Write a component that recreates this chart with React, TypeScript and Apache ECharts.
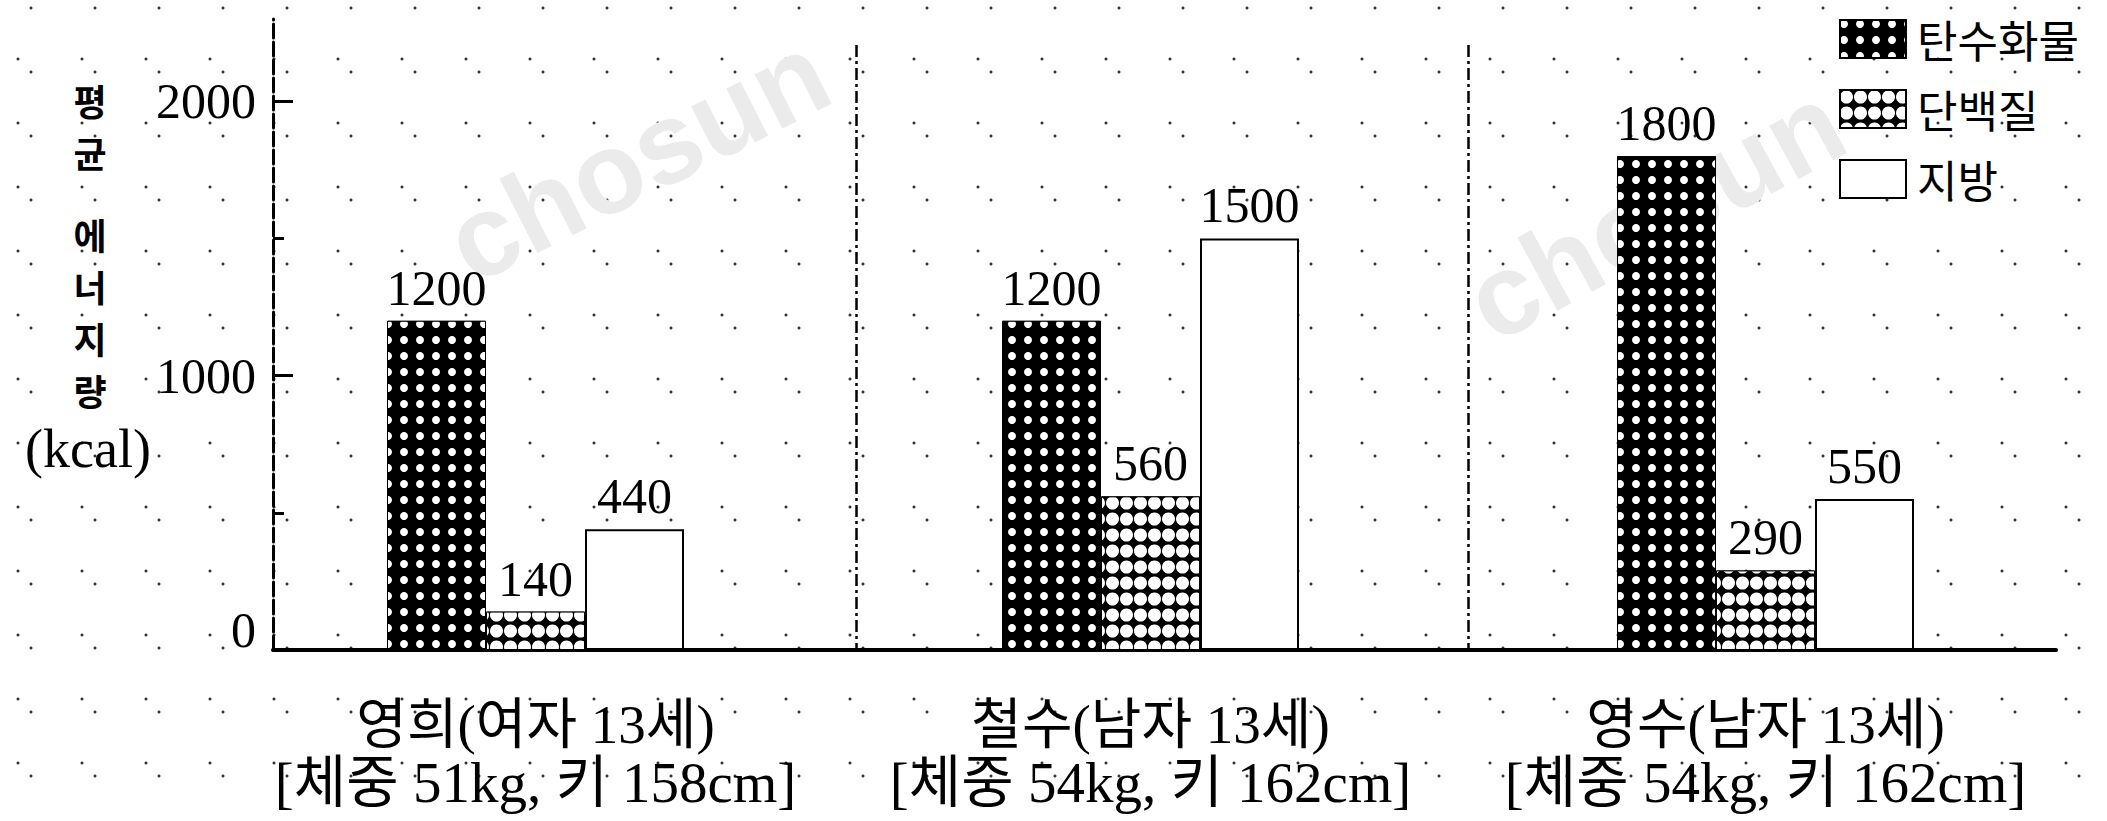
import React, { useEffect, useRef } from 'react';
import * as echarts from 'echarts';

// ---- data ----
const personNames = ['영희(여자 13세)', '철수(남자 13세)', '영수(남자 13세)'];
const personInfo = ['[체중 51kg, 키 158cm]', '[체중 54kg, 키 162cm]', '[체중 54kg, 키 162cm]'];
const seriesNames = ['탄수화물', '단백질', '지방'];
const carbs = [1200, 1200, 1800];
const protein = [140, 560, 290];
const fat = [440, 1500, 550];
const yLabelTicks = [0, 1000, 2000];
const yMajorTicks = [1000, 2000];
const yMinorTicks = [500, 1500];
const yMax = 2300;
const axisTitleChars = ['평', '균', '에', '너', '지', '량'];
const axisUnit = '(kcal)';
const watermarkText = 'chosun';

const SERIF = "'Liberation Serif', 'Noto Sans CJK KR', serif";
const KR = "'Noto Sans CJK KR', 'Liberation Serif', sans-serif";

export default function App() {
  const ref = useRef<HTMLDivElement>(null);

  useEffect(() => {
    if (!ref.current) return;
    const chart = echarts.init(ref.current, undefined, { renderer: 'svg' });
    const categories = personNames.map((n, i) => n + '\n' + personInfo[i]);

    const barLabel = {
      show: true,
      position: 'top',
      distance: 8,
      fontSize: 50,
      fontFamily: SERIF,
      color: '#000',
    };

    // vertical axis title: one character per line, a wider gap after the first word
    const titleY = [100, 152, 234, 286, 338, 390];
    const titleTexts = axisTitleChars.map((ch, i) => ({
      type: 'text',
      x: 90,
      y: titleY[i],
      style: {
        text: ch,
        fontSize: 36,
        fontWeight: 'bold',
        fontFamily: KR,
        fill: '#000',
        align: 'center',
        verticalAlign: 'middle',
      },
    }));

    const wm = (x: number, y: number, rot: number) => ({
      type: 'text',
      x,
      y,
      rotation: rot,
      z: -10,
      silent: true,
      style: {
        text: watermarkText,
        fontSize: 115,
        fontWeight: 'bold',
        fontFamily: "'Liberation Sans', Arial, sans-serif",
        fill: '#ebebeb',
        align: 'left',
        verticalAlign: 'middle',
      },
    });

    const option: any = {
      animation: false,
      backgroundColor: 'transparent',
      textStyle: { fontFamily: SERIF, color: '#000' },
      grid: [
        { left: 273, right: 51, top: 19, bottom: 171 },
        { left: 228, right: 34, top: 19, bottom: 171 },
        { left: 244, right: 27, top: 45, bottom: 171 },
      ],
      legend: {
        orient: 'vertical',
        left: 1834,
        top: 12,
        icon: 'rect',
        itemWidth: 66,
        itemHeight: 38,
        itemGap: 26,
        selectedMode: false,
        data: seriesNames,
        textStyle: { fontSize: 44, fontFamily: KR, color: '#000', padding: [0, 0, 0, 6] },
      },
      xAxis: [
        {
          gridIndex: 0,
          type: 'category',
          data: [''],
          axisLine: { show: true, lineStyle: { color: '#000', width: 4 } },
          axisTick: { show: false },
          axisLabel: { show: false },
          splitLine: { show: false },
        },
        {
          gridIndex: 1,
          type: 'category',
          data: categories,
          axisLine: { show: false },
          axisTick: { show: false },
          splitLine: { show: false },
          axisLabel: {
            interval: 0,
            margin: 45,
            formatter: (v: string) => {
              const parts = v.split('\n');
              return '{a|' + parts[0] + '}\n{b|' + parts[1] + '}';
            },
            rich: {
              a: { fontSize: 55, lineHeight: 58, fontFamily: SERIF, color: '#000' },
              b: { fontSize: 57, lineHeight: 58, fontFamily: SERIF, color: '#000' },
            },
          },
        },
        {
          gridIndex: 2,
          type: 'category',
          data: categories,
          axisLine: { show: false },
          axisTick: { show: false },
          axisLabel: { show: false },
          splitLine: {
            show: true,
            interval: 0,
            showMinLine: false,
            showMaxLine: false,
            lineStyle: { color: '#000', width: 2.5, type: [12, 4, 3, 4] },
          },
        },
      ],
      yAxis: [
        {
          gridIndex: 0,
          type: 'value',
          min: 0,
          max: yMax,
          position: 'left',
          axisLine: { show: true, lineStyle: { color: '#000', width: 3, type: [14, 4] } },
          axisTick: {
            show: true,
            inside: true,
            length: 20,
            customValues: yMajorTicks,
            lineStyle: { color: '#000', width: 3 },
          },
          axisLabel: {
            customValues: yLabelTicks,
            margin: 17,
            fontSize: 50,
            fontFamily: SERIF,
            color: '#000',
            formatter: (v: number) => (v === 0 ? '{z|0}' : String(v)),
            rich: {
              z: { fontSize: 50, fontFamily: SERIF, color: '#000', padding: [0, 0, 40, 0] },
            },
          },
          splitLine: { show: false },
        },
        {
          gridIndex: 0,
          type: 'value',
          min: 0,
          max: yMax,
          position: 'left',
          axisLine: { show: false },
          axisTick: {
            show: true,
            inside: true,
            length: 11,
            customValues: yMinorTicks,
            lineStyle: { color: '#000', width: 3 },
          },
          axisLabel: { show: false },
          splitLine: { show: false },
        },
        { gridIndex: 1, type: 'value', min: 0, max: yMax, show: false },
        { gridIndex: 2, type: 'value', min: 0, max: 1, show: false },
      ],
      graphic: [
        wm(455, 250, 0.47),
        wm(1475, 310, 0.5),
        ...titleTexts,
        {
          type: 'text',
          x: 88,
          y: 449,
          style: {
            text: axisUnit,
            fontSize: 54,
            fontFamily: SERIF,
            fill: '#000',
            align: 'center',
            verticalAlign: 'middle',
          },
        },
      ],
      series: [
        {
          name: seriesNames[0],
          type: 'bar',
          xAxisIndex: 1,
          yAxisIndex: 2,
          data: carbs,
          barWidth: 99,
          barGap: '0%',
          itemStyle: {
            color: '#000',
            borderColor: '#000',
            borderWidth: 1,
            decal: {
              symbol: 'circle',
              symbolSize: 1,
              color: '#ffffff',
              dashArrayX: [8, 8],
              dashArrayY: [8, 8],
              rotation: 0,
            },
          },
          label: barLabel,
        },
        {
          name: seriesNames[1],
          type: 'bar',
          xAxisIndex: 1,
          yAxisIndex: 2,
          data: protein,
          barWidth: 99,
          barGap: '0%',
          itemStyle: {
            color: '#000',
            borderColor: '#000',
            borderWidth: 1,
            decal: {
              symbol: 'circle',
              symbolSize: 1,
              color: '#ffffff',
              dashArrayX: [13, 1],
              dashArrayY: [14, 2],
              rotation: 0,
            },
          },
          label: barLabel,
        },
        {
          name: seriesNames[2],
          type: 'bar',
          xAxisIndex: 1,
          yAxisIndex: 2,
          data: fat,
          barWidth: 99,
          barGap: '0%',
          itemStyle: { color: '#ffffff', borderColor: '#000', borderWidth: 2 },
          label: barLabel,
        },
      ],
    };

    chart.setOption(option);
    return () => {
      chart.dispose();
    };
  }, []);

  return (
    <div
      ref={ref}
      style={{
        position: 'fixed',
        left: 0,
        top: 0,
        width: 2107,
        height: 821,
        backgroundColor: '#ffffff',
        backgroundImage:
          'radial-gradient(circle, #333 1.2px, transparent 1.8px), radial-gradient(circle, #333 1.2px, transparent 1.8px)',
        backgroundSize: '64px 64px, 64px 64px',
        backgroundPosition: '-14px 27px, -1px -24px',
      }}
    />
  );
}
